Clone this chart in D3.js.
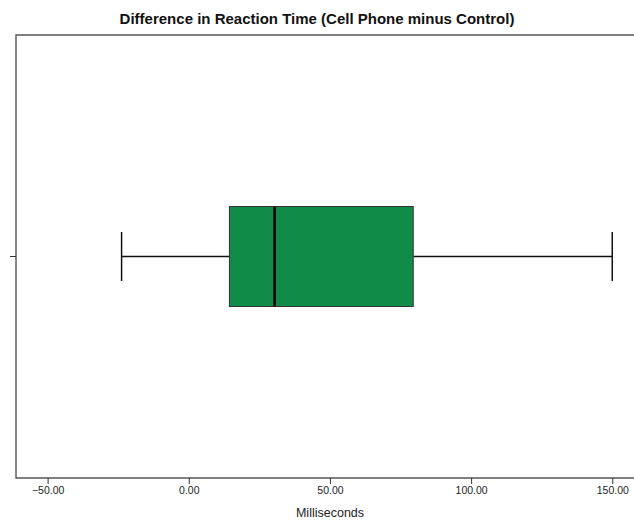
<!DOCTYPE html>
<html>
<head>
<meta charset="utf-8">
<script src="https://cdn.jsdelivr.net/npm/d3@7"></script>
<style>
	body { margin: 0; background: #fff; }
	svg text { font-family: Arial, "Liberation Sans", sans-serif; }
</style>
</head>
<body>
<svg class="chart"></svg>
<script>
// values (milliseconds)
var categories = ['Difference'];
var whiskerLow = [-23.8];
var quartile1 = [14.4];
var medians = [30.4];
var quartile3 = [79.5];
var whiskerHigh = [150.0];
var tickValues = [-50, 0, 50, 100, 150];

var width = 634,
	height = 521,
	margin = {top: 35, right: 0, bottom: 43, left: 16};

var data = categories.map(function(c, i) {
	return {
		name: c,
		lo: whiskerLow[i],
		q1: quartile1[i],
		med: medians[i],
		q3: quartile3[i],
		hi: whiskerHigh[i]
	};
});

var svg = d3.select('svg.chart')
	.attr('width', width)
	.attr('height', height);

var x = d3.scaleLinear()
	.domain([-61.2, 157.7])
	.range([margin.left, width - margin.right]);

var y = d3.scaleBand()
	.domain(categories)
	.range([margin.top, height - margin.bottom])
	.paddingInner(0)
	.paddingOuter(1.715);

// title
svg.append('text')
	.attr('x', 317)
	.attr('y', 24)
	.attr('text-anchor', 'middle')
	.style('font-size', '15px')
	.style('font-weight', 'bold')
	.attr('fill', '#111')
	.text('Difference in Reaction Time (Cell Phone minus Control)');

// frame (left + top + bottom)
svg.append('path')
	.attr('d', 'M' + width + ',' + margin.top + 'H' + margin.left + 'V' + (height - margin.bottom) + 'H' + width)
	.attr('fill', 'none')
	.attr('stroke', '#555')
	.attr('stroke-width', 1.4);

// x axis
var xAxis = d3.axisBottom(x)
	.tickValues(tickValues)
	.tickSize(6)
	.tickSizeOuter(0)
	.tickFormat(d3.format('.2f'));

var gx = svg.append('g')
	.attr('transform', 'translate(0,' + (height - margin.bottom) + ')')
	.call(xAxis);
gx.select('.domain').remove();
gx.selectAll('.tick line').attr('stroke', '#333');
gx.selectAll('.tick text')
	.attr('y', 9)
	.style('font-size', '10.5px')
	.attr('fill', '#222');

// y axis (single unlabelled tick)
var gy = svg.append('g')
	.attr('transform', 'translate(' + margin.left + ',0)')
	.call(d3.axisLeft(y).tickSize(6).tickFormat(''));
gy.select('.domain').remove();
gy.selectAll('.tick line').attr('stroke', '#333');

// axis title
svg.append('text')
	.attr('x', 330)
	.attr('y', 517)
	.attr('text-anchor', 'middle')
	.style('font-size', '12.5px')
	.attr('fill', '#222')
	.text('Milliseconds');

// boxes
var box = svg.selectAll('.box')
	.data(data)
	.enter()
	.append('g')
		.attr('class', 'box');

var cy = function(d) { return y(d.name) + y.bandwidth() / 2; };
var capHalf = function() { return y.bandwidth() * 0.245; };

box.append('line')
	.attr('x1', function(d) { return x(d.lo); })
	.attr('x2', function(d) { return x(d.q1); })
	.attr('y1', cy)
	.attr('y2', cy)
	.attr('stroke', '#111')
	.attr('stroke-width', 1.5);

box.append('line')
	.attr('x1', function(d) { return x(d.q3); })
	.attr('x2', function(d) { return x(d.hi); })
	.attr('y1', cy)
	.attr('y2', cy)
	.attr('stroke', '#111')
	.attr('stroke-width', 1.5);

['lo', 'hi'].forEach(function(k) {
	box.append('line')
		.attr('x1', function(d) { return x(d[k]); })
		.attr('x2', function(d) { return x(d[k]); })
		.attr('y1', function(d) { return cy(d) - capHalf(); })
		.attr('y2', function(d) { return cy(d) + capHalf(); })
		.attr('stroke', '#111')
		.attr('stroke-width', 1.5);
});

box.append('rect')
	.attr('x', function(d) { return x(d.q1); })
	.attr('y', function(d) { return y(d.name); })
	.attr('width', function(d) { return x(d.q3) - x(d.q1); })
	.attr('height', y.bandwidth())
	.attr('fill', '#118c48')
	.attr('stroke', '#333')
	.attr('stroke-width', 1);

box.append('line')
	.attr('x1', function(d) { return x(d.med); })
	.attr('x2', function(d) { return x(d.med); })
	.attr('y1', function(d) { return y(d.name); })
	.attr('y2', function(d) { return y(d.name) + y.bandwidth(); })
	.attr('stroke', '#000')
	.attr('stroke-width', 2.5);
</script>
</body>
</html>
